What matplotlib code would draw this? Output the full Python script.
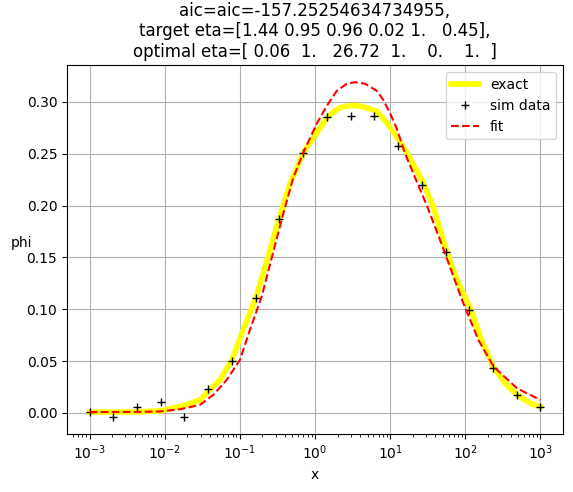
import matplotlib
matplotlib.use("Agg")
import matplotlib.pyplot as plt

# exact curve
exact_x = [0.001, 0.00424, 0.00885, 0.01686, 0.0293, 0.0378, 0.0541, 0.0782, 0.1107,
           0.1633, 0.2291, 0.3311, 0.4642, 0.6982, 1.054, 1.445, 1.738, 2.154, 2.646,
           3.597, 4.642, 6.647, 9.04, 12.28, 16.70, 27.8, 37.4, 55.8, 77.5, 116.6,
           158.5, 234, 341, 489, 736, 1000]
exact_y = [0.0007, 0.001, 0.002, 0.0065, 0.0125, 0.0205, 0.0317, 0.051, 0.080,
           0.111, 0.147, 0.187, 0.221, 0.251, 0.270, 0.285, 0.290, 0.2945, 0.296,
           0.2965, 0.2948, 0.291, 0.280, 0.266, 0.251, 0.2215, 0.199, 0.157, 0.128,
           0.101, 0.0734, 0.0445, 0.0285, 0.0173, 0.0093, 0.006]

# simulated data
sim_x = [0.001, 0.002069, 0.004281, 0.008859, 0.01833, 0.03793, 0.07848, 0.1624,
         0.3360, 0.6952, 1.438, 2.976, 6.158, 12.74, 26.37, 54.56, 112.9, 233.6,
         483.3, 1000]
sim_y = [0.001, -0.0041, 0.006, 0.0103, -0.0041, 0.0234, 0.0497, 0.1106,
         0.187, 0.2506, 0.2856, 0.2865, 0.2865, 0.257, 0.220, 0.155, 0.0997, 0.043,
         0.0173, 0.0055]

# fitted curve
fit_x = [0.001, 0.00424, 0.00885, 0.01585, 0.0293, 0.04406, 0.06653, 0.1, 0.1359,
         0.1947, 0.2512, 0.3777, 0.514, 0.6982, 1.054, 1.432, 1.946, 2.646, 3.415,
         4.642, 6.647, 8.0, 10.0, 12.28, 15.85, 23.84, 30.83, 48.87, 90.4, 150.3,
         238.5, 489, 1000]
fit_y = [0.0008, 0.001, 0.0015, 0.0035, 0.0077, 0.0173, 0.0317, 0.051, 0.080,
         0.112, 0.143, 0.192, 0.227, 0.251, 0.279, 0.296, 0.3106, 0.3175, 0.319,
         0.3175, 0.3106, 0.3025, 0.289, 0.274, 0.250, 0.219, 0.200, 0.162, 0.109,
         0.070, 0.0445, 0.0237, 0.0125]

title = ("aic=aic=-157.25254634734955,\n"
         "target eta=[1.44 0.95 0.96 0.02 1.   0.45],\n"
         "optimal eta=[ 0.06  1.   26.72  1.    0.    1.  ]")

fig = plt.figure(figsize=(5.73, 4.92), dpi=100)
ax = fig.add_axes([0.117, 0.118, 0.8655, 0.749])
ax.plot(exact_x, exact_y, color="yellow", lw=4, label="exact")
ax.plot(sim_x, sim_y, "k+", label="sim data")
ax.plot(fit_x, fit_y, "r--", label="fit")
ax.set_xscale("log")
ax.grid(True)
ax.set_xlabel("x")
ax.set_ylabel("phi", rotation=0)
ax.set_title(title)
ax.legend(loc="upper right")
fig.savefig("out.png", dpi=100)
